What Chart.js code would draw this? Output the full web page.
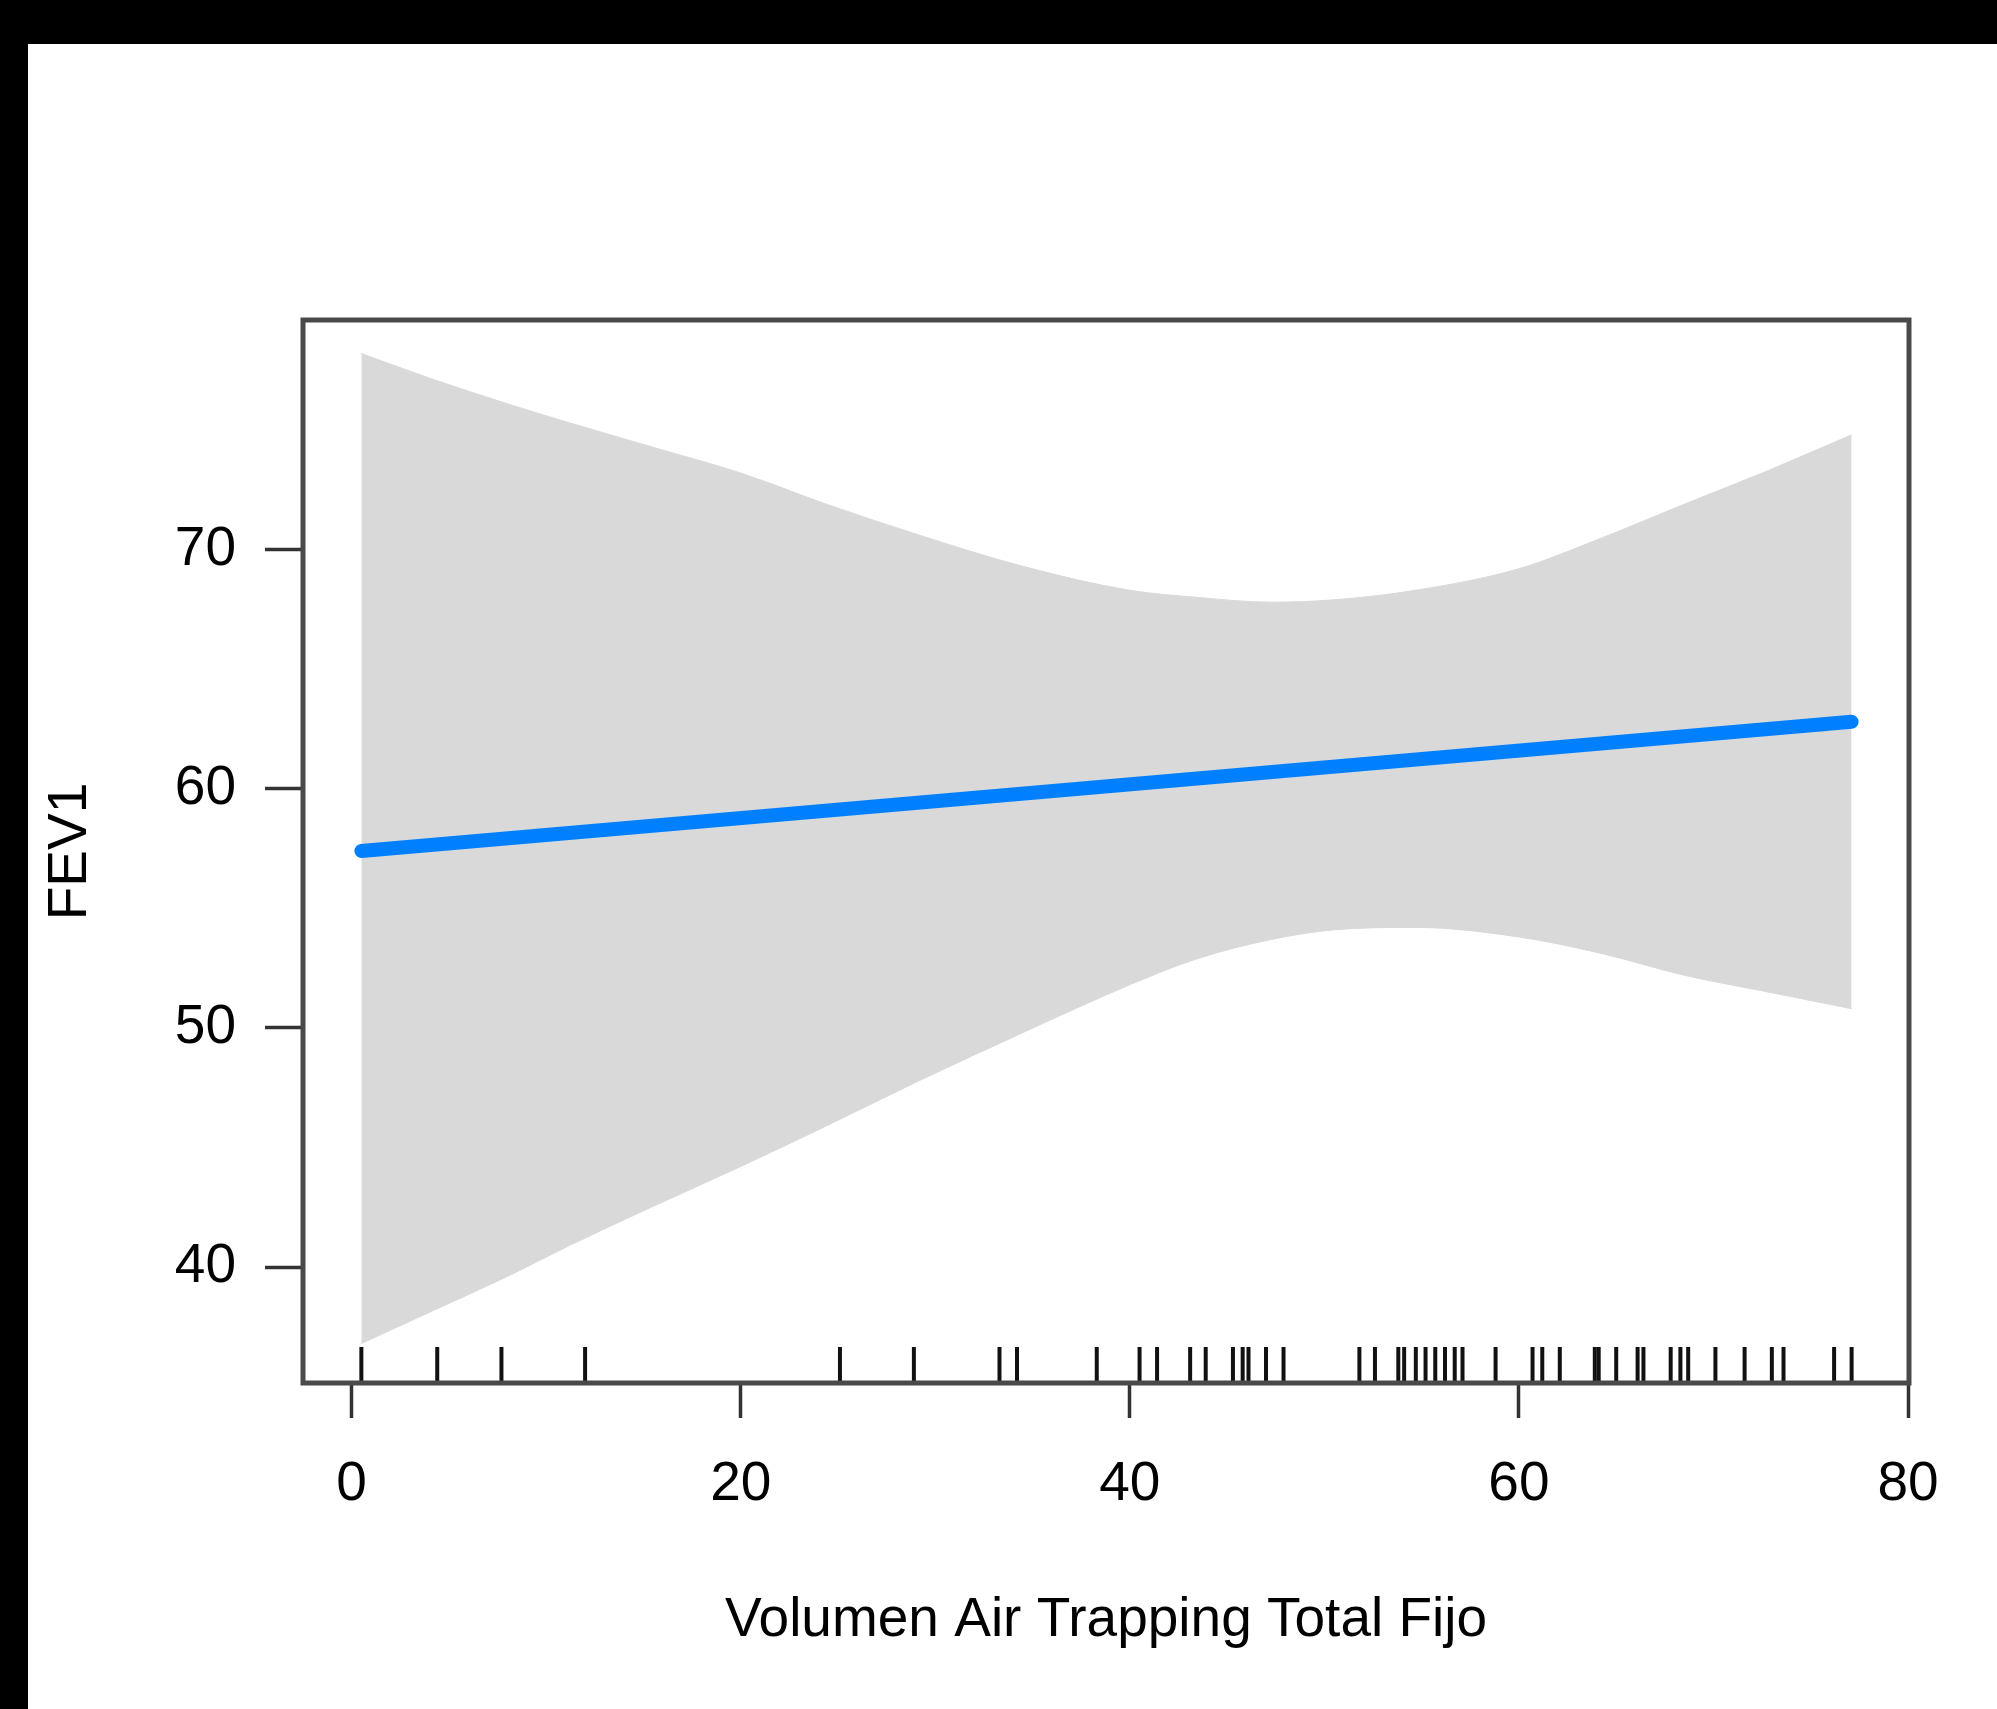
<!DOCTYPE html>
<html>
<head>
<meta charset="utf-8">
<script src="https://cdn.jsdelivr.net/npm/chart.js@4/dist/chart.umd.min.js"></script>
<style>
  html, body { margin: 0; padding: 0; background: #fff; width: 1997px; height: 1709px; overflow: hidden; }
  #topband { position: absolute; left: 0; top: 0; width: 1997px; height: 44px; background: #000; }
  #leftband { position: absolute; left: 0; top: 0; width: 28px; height: 1709px; background: #000; }
  #wrap { position: absolute; left: 28px; top: 44px; width: 1969px; height: 1665px; background: #fff; }
</style>
</head>
<body>
<div id="topband"></div>
<div id="leftband"></div>
<div id="wrap"><canvas id="c"></canvas></div>
<script>
// ---- data ----
const xTitle = "Volumen Air Trapping Total Fijo";
const yTitle = "FEV1";
const xTicks = [0, 20, 40, 60, 80];
const yTicks = [40, 50, 60, 70];

// fitted line (endpoints of the straight fit)
const fitX = [0.5, 77.1];
const fitY = [57.4, 62.8];

// confidence band
const bandX  = [0.5, 4.25, 8.0, 11.2, 15.4, 20, 24.4, 29.2, 34.5, 40, 43.5, 47.3, 50.5, 54.7, 60, 64.3, 68.5, 72.8, 77.1];
const bandHi = [78.2, 77.1, 76.1, 75.3, 74.3, 73.2, 71.9, 70.6, 69.3, 68.3, 68.0, 67.8, 67.9, 68.3, 69.2, 70.5, 71.9, 73.3, 74.8];
const bandLo = [36.8, 38.2, 39.6, 40.9, 42.5, 44.2, 45.9, 47.8, 49.8, 51.8, 52.9, 53.7, 54.1, 54.2, 53.8, 53.1, 52.2, 51.5, 50.8];

// rug (observed x values)
const rugX = [0.5, 4.4, 7.7, 12.0, 25.1, 28.9, 33.3, 34.2, 38.3, 40.5, 41.4, 43.1, 43.9, 45.3, 45.8, 46.1, 47.0, 47.9,
  51.8, 52.6, 53.8, 54.1, 54.7, 55.2, 55.7, 56.2, 56.7, 57.1, 58.8, 60.7, 61.2, 62.1, 63.9, 64.1, 65.0, 66.1, 66.4,
  67.8, 68.3, 68.7, 70.1, 71.6, 73.0, 73.6, 76.2, 77.1];

const xRange = [-2.5, 80.05];
const yRange = [35.15, 79.6];

// ---- build ----
const zip = (xs, ys) => xs.map((x, i) => ({ x: x, y: ys[i] }));
const FONT = "'Liberation Sans', Arial, 'DejaVu Sans', sans-serif";

const rugAndBox = {
  id: 'rugAndBox',
  afterDatasetsDraw(chart) {
    const { ctx, chartArea, scales } = chart;
    ctx.save();
    ctx.strokeStyle = '#111';
    ctx.lineWidth = 4;
    rugX.forEach(v => {
      const px = scales.x.getPixelForValue(v);
      ctx.beginPath();
      ctx.moveTo(px, chartArea.bottom);
      ctx.lineTo(px, chartArea.bottom - 36);
      ctx.stroke();
    });
    ctx.restore();
  },
  afterDraw(chart) {
    const { ctx, chartArea } = chart;
    ctx.save();
    ctx.strokeStyle = '#4a4a4a';
    ctx.lineWidth = 5;
    ctx.strokeRect(chartArea.left, chartArea.top, chartArea.right - chartArea.left, chartArea.bottom - chartArea.top);
    ctx.restore();
  }
};

new Chart(document.getElementById('c'), {
  type: 'line',
  data: {
    datasets: [
      {
        data: zip(fitX, fitY),
        borderColor: '#0080ff',
        borderWidth: 14,
        borderCapStyle: 'round',
        pointRadius: 0,
        fill: false,
        tension: 0
      },
      {
        data: zip(bandX, bandHi),
        borderColor: '#d9d9d9',
        borderWidth: 1,
        pointRadius: 0,
        fill: false,
        cubicInterpolationMode: 'monotone'
      },
      {
        data: zip(bandX, bandLo),
        borderColor: '#d9d9d9',
        borderWidth: 1,
        backgroundColor: '#d9d9d9',
        pointRadius: 0,
        fill: '-1',
        cubicInterpolationMode: 'monotone'
      }
    ]
  },
  options: {
    responsive: true,
    maintainAspectRatio: false,
    animation: false,
    layout: { padding: { left: 0, right: 88, top: 276, bottom: 0 } },
    plugins: { legend: { display: false }, tooltip: { enabled: false } },
    scales: {
      x: {
        type: 'linear',
        position: 'bottom',
        min: xRange[0],
        max: xRange[1],
        afterBuildTicks: s => { s.ticks = xTicks.map(v => ({ value: v })); },
        afterFit: s => { s.height = 326; },
        ticks: {
          includeBounds: false,
          maxRotation: 0,
          autoSkip: false,
          padding: 39,
          color: '#000',
          font: { family: FONT, size: 55, lineHeight: 1 },
          callback: v => String(v)
        },
        grid: { display: true, drawOnChartArea: false, drawTicks: true, tickLength: 35, tickColor: '#333', tickWidth: 3.5 },
        border: { display: false },
        title: {
          display: true,
          text: xTitle,
          color: '#000',
          font: { family: FONT, size: 55, lineHeight: 1 },
          padding: { top: 0, bottom: 61 }
        }
      },
      y: {
        type: 'linear',
        position: 'left',
        min: yRange[0],
        max: yRange[1],
        afterBuildTicks: s => { s.ticks = yTicks.map(v => ({ value: v })); },
        afterFit: s => { s.width = 275; },
        ticks: {
          includeBounds: false,
          autoSkip: false,
          padding: 29,
          color: '#000',
          font: { family: FONT, size: 55, lineHeight: 1 },
          callback: v => String(v)
        },
        grid: { display: true, drawOnChartArea: false, drawTicks: true, tickLength: 38, tickColor: '#333', tickWidth: 3.5 },
        border: { display: false },
        title: {
          display: true,
          text: yTitle,
          color: '#000',
          font: { family: FONT, size: 55, lineHeight: 1 },
          padding: { top: 15, bottom: 0 }
        }
      }
    }
  },
  plugins: [rugAndBox]
});
</script>
</body>
</html>
